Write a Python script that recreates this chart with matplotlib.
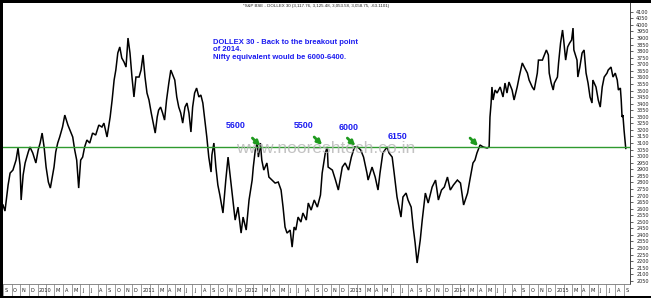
import matplotlib
matplotlib.use("Agg")
import matplotlib.pyplot as plt
import matplotlib.transforms as mtransforms
from matplotlib.patches import Rectangle
import pandas as pd

# DOLLEX 30 closes (approximate)
dates = [
    "2009-09-01", "2009-09-08", "2009-09-19", "2009-09-26", "2009-10-06", "2009-10-17", "2009-10-24", "2009-10-31",
    "2009-11-04", "2009-11-11", "2009-11-18", "2009-11-29", "2009-12-05", "2009-12-15", "2009-12-26", "2010-01-03",
    "2010-01-10", "2010-01-17", "2010-01-24", "2010-01-31", "2010-02-08", "2010-02-15", "2010-02-22", "2010-02-28",
    "2010-03-06", "2010-03-13", "2010-03-20", "2010-03-30", "2010-04-07", "2010-04-18", "2010-04-28", "2010-05-05",
    "2010-05-12", "2010-05-19", "2010-05-26", "2010-06-02", "2010-06-09", "2010-06-16", "2010-06-24", "2010-07-04",
    "2010-07-14", "2010-07-25", "2010-08-05", "2010-08-16", "2010-08-23", "2010-09-03", "2010-09-14", "2010-09-21",
    "2010-09-28", "2010-10-04", "2010-10-11", "2010-10-18", "2010-10-25", "2010-11-02", "2010-11-09", "2010-11-16",
    "2010-11-23", "2010-11-30", "2010-12-07", "2010-12-14", "2010-12-25", "2011-01-01", "2011-01-08", "2011-01-15",
    "2011-01-22", "2011-01-29", "2011-02-06", "2011-02-13", "2011-02-20", "2011-02-27", "2011-03-04", "2011-03-11",
    "2011-03-18", "2011-03-25", "2011-04-01", "2011-04-09", "2011-04-16", "2011-04-23", "2011-04-30", "2011-05-07",
    "2011-05-14", "2011-05-21", "2011-05-28", "2011-06-05", "2011-06-12", "2011-06-19", "2011-06-26", "2011-07-02",
    "2011-07-09", "2011-07-16", "2011-07-24", "2011-07-31", "2011-08-07", "2011-08-14", "2011-08-21", "2011-08-28",
    "2011-09-05", "2011-09-08", "2011-09-15", "2011-09-22", "2011-09-29", "2011-10-06", "2011-10-17", "2011-10-27",
    "2011-11-04", "2011-11-15", "2011-11-29", "2011-12-09", "2011-12-20", "2011-12-27", "2012-01-07", "2012-01-17",
    "2012-01-28", "2012-02-01", "2012-02-08", "2012-02-15", "2012-02-19", "2012-02-26", "2012-03-02", "2012-03-09",
    "2012-03-20", "2012-03-27", "2012-04-07", "2012-04-18", "2012-04-29", "2012-05-09", "2012-05-16", "2012-05-23",
    "2012-05-30", "2012-06-10", "2012-06-17", "2012-06-24", "2012-06-30", "2012-07-08", "2012-07-18", "2012-07-25",
    "2012-08-06", "2012-08-13", "2012-08-23", "2012-09-03", "2012-09-14", "2012-09-25", "2012-10-01", "2012-10-12",
    "2012-10-19", "2012-10-22", "2012-11-06", "2012-11-17", "2012-11-27", "2012-12-11", "2012-12-21", "2013-01-02",
    "2013-01-12", "2013-01-23", "2013-02-03", "2013-02-14", "2013-02-24", "2013-03-08", "2013-03-12", "2013-03-26",
    "2013-04-06", "2013-04-16", "2013-04-23", "2013-05-03", "2013-05-18", "2013-05-25", "2013-06-05", "2013-06-12",
    "2013-06-22", "2013-06-29", "2013-07-06", "2013-07-13", "2013-07-24", "2013-07-31", "2013-08-11", "2013-08-18",
    "2013-08-25", "2013-09-01", "2013-09-12", "2013-09-19", "2013-09-30", "2013-10-10", "2013-10-24", "2013-11-05",
    "2013-11-15", "2013-11-26", "2013-12-06", "2013-12-17", "2013-12-27", "2014-01-07", "2014-01-21", "2014-02-01",
    "2014-02-12", "2014-02-26", "2014-03-06", "2014-03-17", "2014-03-24", "2014-03-31", "2014-04-11", "2014-04-22",
    "2014-05-06", "2014-05-13", "2014-05-16", "2014-05-20", "2014-05-23", "2014-05-27", "2014-06-03", "2014-06-10",
    "2014-06-21", "2014-07-01", "2014-07-08", "2014-07-15", "2014-07-22", "2014-08-02", "2014-08-09", "2014-08-20",
    "2014-08-27", "2014-09-07", "2014-09-14", "2014-09-25", "2014-10-01", "2014-10-12", "2014-10-19", "2014-10-30",
    "2014-11-03", "2014-11-17", "2014-11-21", "2014-12-01", "2014-12-08", "2014-12-11", "2014-12-18", "2014-12-25",
    "2014-12-29", "2015-01-09", "2015-01-13", "2015-01-20", "2015-01-27", "2015-01-31", "2015-02-07", "2015-02-14",
    "2015-02-21", "2015-02-28", "2015-03-05", "2015-03-08", "2015-03-19", "2015-03-22", "2015-03-29", "2015-04-06",
    "2015-04-13", "2015-04-20", "2015-04-27", "2015-05-04", "2015-05-11", "2015-05-14", "2015-05-25", "2015-06-02",
    "2015-06-09", "2015-06-16", "2015-06-23", "2015-07-03", "2015-07-07", "2015-07-17", "2015-07-24", "2015-08-01",
    "2015-08-08", "2015-08-12", "2015-08-19", "2015-08-22", "2015-08-25", "2015-08-28", "2015-09-01", "2015-09-04",
    "2015-09-07",
]
closes = [
    2628, 2582, 2780, 2871, 2894, 2970, 3062, 2932,
    2666, 2856, 2948, 3031, 3070, 3024, 2948, 3047,
    3100, 3176, 3070, 2917, 2803, 2757, 2841, 2917,
    3031, 3100, 3146, 3222, 3313, 3237, 3184, 3146,
    3047, 2970, 2757, 2970, 2993, 3070, 3123, 3100,
    3176, 3161, 3237, 3222, 3252, 3146, 3298, 3428,
    3580, 3656, 3786, 3832, 3748, 3717, 3679, 3900,
    3786, 3603, 3451, 3603, 3603, 3656, 3771, 3603,
    3481, 3428, 3329, 3252, 3176, 3298, 3351, 3374,
    3329, 3275, 3428, 3557, 3656, 3618, 3580, 3451,
    3374, 3329, 3252, 3374, 3405, 3329, 3184, 3374,
    3481, 3519, 3451, 3466, 3405, 3275, 3146, 2993,
    2879, 3009, 3100, 2917, 2780, 2704, 2567, 2818,
    2993, 2780, 2513, 2612, 2414, 2536, 2437, 2666,
    2818, 2917, 3047, 3100, 2993, 3100, 2970, 2894,
    2948, 2841, 2818, 2795, 2803, 2742, 2612, 2460,
    2414, 2437, 2307, 2460, 2437, 2536, 2498, 2567,
    2513, 2643, 2589, 2666, 2612, 2704, 2871, 3024,
    3070, 2917, 2894, 2818, 2742, 2917, 2948, 2894,
    2993, 3070, 3070, 3047, 2993, 2871, 2818, 2917,
    2841, 2742, 2871, 3024, 3070, 3024, 2993, 2871,
    2689, 2612, 2536, 2689, 2719, 2666, 2612, 2460,
    2338, 2186, 2361, 2513, 2719, 2643, 2765, 2818,
    2666, 2742, 2765, 2841, 2742, 2780, 2818, 2795,
    2628, 2719, 2818, 2948, 2970, 3024, 3085, 3070,
    3062, 3070, 3298, 3405, 3527, 3428, 3504, 3481,
    3527, 3451, 3557, 3481, 3565, 3504, 3428, 3527,
    3603, 3710, 3679, 3633, 3580, 3527, 3504, 3633,
    3732, 3732, 3755, 3809, 3771, 3633, 3557, 3504,
    3557, 3603, 3710, 3862, 3961, 3885, 3732, 3832,
    3862, 3885, 3976, 3809, 3732, 3603, 3679, 3786,
    3809, 3633, 3557, 3451, 3405, 3580, 3527, 3428,
    3374, 3527, 3603, 3633, 3656, 3679, 3603, 3633,
    3580, 3504, 3519, 3428, 3298, 3313, 3199, 3125,
    3059,
]

breakout_level = 3072

# Nifty levels marked at each retest of the breakout zone
level_labels = ["5600", "5500", "6000", "6150"]
level_dates = ["2011-12-02", "2012-07-29", "2013-01-02", "2013-06-22"]
level_values = [3230, 3237, 3222, 3153]

arrow_dates = ["2012-02-26", "2012-10-01", "2013-01-26", "2014-04-04"]
arrow_values = [3077, 3085, 3077, 3077]

note = "DOLLEX 30 - Back to the breakout point\nof 2014.\nNifty equivalent would be 6000-6400."
header = "*S&P BSE - DOLLEX 30 (3,117.76, 3,125.48, 3,053.58, 3,058.75, -63.1101)"
watermark = "www.nooreshtech.co.in"

W, H = 651, 298
fig = plt.figure(figsize=(W / 100, H / 100), dpi=100)
fig.patch.set_facecolor("white")
ax = fig.add_axes([3 / W, 14 / H, 627 / W, 281 / H])

x = pd.to_datetime(dates)
ax.plot(x, closes, color="black", lw=1.1, solid_joinstyle="miter")
ax.axhline(breakout_level, color="#2f9a2f", lw=1.0)

ax.set_xlim(pd.Timestamp("2009-09-01"), pd.Timestamp("2015-09-22"))
ax.set_ylim(2026, 4167)

# right-hand price scale
ax.yaxis.tick_right()
ax.set_yticks(range(2050, 4101, 50))
ax.tick_params(axis="y", labelsize=3.5, length=2.5, width=0.5, pad=2, colors="#222222")

# month cells along the bottom
months = pd.date_range("2009-09-01", "2015-09-01", freq="MS")
ax.set_xticks(months)
ax.tick_params(axis="x", length=8.5, width=0.5, color="#777777", labelbottom=False)
off = mtransforms.ScaledTranslation(1.5 / 100, -6.5 / 100, fig.dpi_scale_trans)
trans = mtransforms.blended_transform_factory(ax.transData, ax.transAxes) + off
for m in months:
    if m.month == 2:
        continue
    lbl = str(m.year) if m.month == 1 else m.strftime("%b")[0]
    ax.text(m, 0, lbl, transform=trans, ha="left", va="center", fontsize=3.6, color="#222222")

for s in ["left", "top"]:
    ax.spines[s].set_visible(False)
ax.spines["right"].set_color("#444444")
ax.spines["bottom"].set_color("#777777")
ax.spines["right"].set_linewidth(0.7)
ax.spines["bottom"].set_linewidth(0.6)

ax.text(0.5, 1 - 3.5 / 281, header, transform=ax.transAxes, ha="center", va="center",
        fontsize=3.2, family="Liberation Sans", color="#222222")

ax.text(pd.Timestamp("2011-09-12"), 3893, note, ha="left", va="top", fontsize=5.5,
        family="Liberation Sans", weight="bold", color="#1c1cf0", linespacing=1.1)

for lbl, d, v in zip(level_labels, level_dates, level_values):
    ax.text(pd.Timestamp(d), v, lbl, ha="center", va="center", fontsize=6.4,
            family="Liberation Sans", weight="bold", color="#1c1cf0")

for d, v in zip(arrow_dates, arrow_values):
    ax.annotate("", xy=(pd.Timestamp(d), v), xytext=(-8, 8), textcoords="offset pixels",
                arrowprops=dict(arrowstyle="-|>", color="#1f9a1f", lw=2.0, mutation_scale=7,
                                shrinkA=0, shrinkB=0))

ax.text(pd.Timestamp("2012-10-12"), 3062, watermark, ha="center", va="center", fontsize=12.5,
        family="Liberation Sans", color="#b5b5b5", alpha=0.8)

# black screenshot frame
for r in [(0, 1 - 3 / H, 1, 3 / H), (0, 0, 3 / W, 1), (0, 0, 1, 2 / H)]:
    fig.patches.append(Rectangle((r[0], r[1]), r[2], r[3], transform=fig.transFigure,
                                 facecolor="black", edgecolor="none", zorder=10))

fig.savefig("out.png", dpi=100, facecolor="white")
